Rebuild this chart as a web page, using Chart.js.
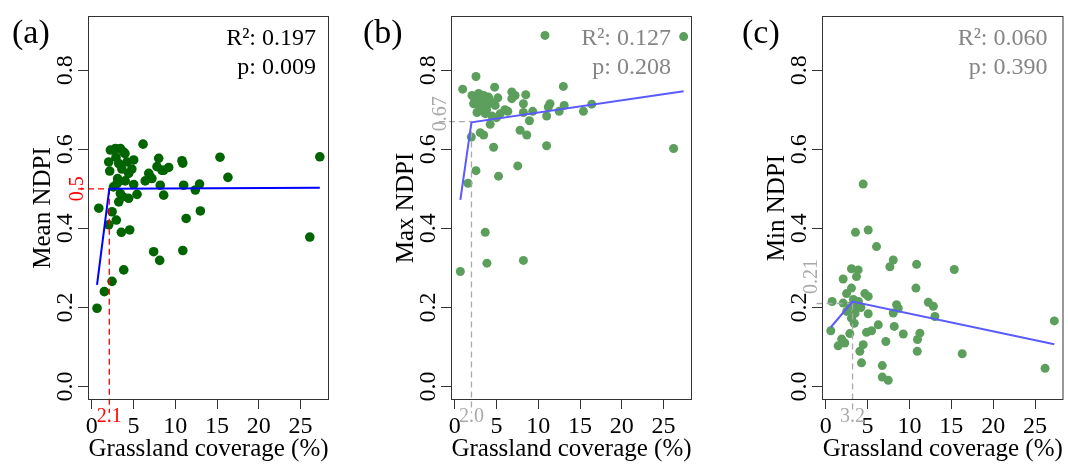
<!DOCTYPE html>
<html>
<head>
<meta charset="utf-8">
<script src="https://cdn.jsdelivr.net/npm/chart.js@4.4.1/dist/chart.umd.min.js"></script>
<style>
body { margin: 0; background: #fff; width: 1068px; height: 464px; overflow: hidden; position: relative; }
.panel { position: absolute; top: 0; width: 356px; height: 464px; }
</style>
</head>
<body>
<div class="panel" style="left:0"><canvas id="chartA" width="356" height="464"></canvas></div>
<div class="panel" style="left:356px"><canvas id="chartB" width="356" height="464"></canvas></div>
<div class="panel" style="left:712px"><canvas id="chartC" width="356" height="464"></canvas></div>
<script>
// ---------- DATA ----------
const xTicks = [0, 5, 10, 15, 20, 25];
const yTicks = [0, 0.2, 0.4, 0.6, 0.8];

// (a) Mean NDPI
const meanX = [0.63, 1.51, 2.43, 3.83, 7.41, 8.13, 10.9, 26.1, 3.54, 4.54, 2.03, 2.94, 11.3, 2.43, 13.0, 0.84,
  3.23, 4.42, 8.61, 5.42, 3.42, 12.4, 3.02, 5.02, 8.2, 11.0, 12.9, 3.18, 6.4, 3.1, 7.0, 16.3,
  6.82, 4.42, 2.15, 8.41, 9.21, 7.81, 3.23, 2.03, 4.22, 5.02, 10.8, 8.01, 15.35, 27.3,
  3.98, 3.82, 2.23, 2.83, 3.42, 6.14, 3.6, 4.0, 2.6, 3.7, 4.8, 2.9, 7.2, 8.6, 10.9];
const meanY = [0.198, 0.240, 0.266, 0.295, 0.341, 0.319, 0.344, 0.378, 0.390, 0.396, 0.409, 0.421, 0.425, 0.442, 0.444, 0.451,
  0.467, 0.476, 0.484, 0.486, 0.488, 0.497, 0.513, 0.511, 0.509, 0.509, 0.512, 0.518, 0.520, 0.526, 0.530, 0.529,
  0.539, 0.539, 0.545, 0.547, 0.554, 0.556, 0.564, 0.568, 0.568, 0.573, 0.571, 0.577, 0.580, 0.581,
  0.589, 0.593, 0.598, 0.602, 0.602, 0.613, 0.550, 0.520, 0.505, 0.480, 0.550, 0.580, 0.526, 0.547, 0.565];
const fitMeanX = [0.63, 2.1, 27.3];
const fitMeanY = [0.257, 0.5, 0.503];

// (b) Max NDPI
const maxX = [10.8, 2.54, 0.95, 4.77, 2.06, 2.86, 3.46, 4.05, 5.16, 6.83, 7.22, 8.5, 2.26, 3.05, 3.85, 4.84, 6.83, 8.22,
  13.0, 11.4, 11.2, 13.1, 2.66, 3.65, 4.45, 5.44, 6.35, 8.22, 9.33, 11.0, 12.5, 8.94, 4.24, 3.05, 3.46, 1.98,
  7.82, 8.62, 4.65, 11.0, 7.54, 2.54, 5.24, 1.58, 3.65, 3.85, 8.22, 0.67, 27.4, 26.2, 16.4, 15.4,
  2.4, 3.3, 3.8, 2.9, 4.3, 6.0, 5.0];
const maxY = [0.888, 0.784, 0.752, 0.757, 0.736, 0.741, 0.736, 0.732, 0.730, 0.745, 0.736, 0.738, 0.715, 0.715, 0.711, 0.711, 0.728, 0.715,
  0.759, 0.715, 0.707, 0.711, 0.693, 0.690, 0.684, 0.690, 0.696, 0.693, 0.696, 0.684, 0.696, 0.672, 0.663, 0.642, 0.636, 0.631,
  0.648, 0.636, 0.605, 0.609, 0.558, 0.546, 0.532, 0.514, 0.390, 0.312, 0.319, 0.291, 0.885, 0.602, 0.714, 0.696,
  0.725, 0.725, 0.700, 0.700, 0.720, 0.700, 0.680];
const fitMaxX = [0.67, 2.0, 27.4];
const fitMaxY = [0.472, 0.668, 0.747];

// (c) Min NDPI
const minX = [4.47, 3.55, 5.07, 6.06, 8.06, 7.66, 10.85, 3.07, 3.87, 3.67, 2.08, 3.07, 2.48, 4.67, 5.07, 10.77, 0.76,
  2.08, 2.87, 3.67, 3.07, 5.07, 8.46, 8.66, 8.06, 12.25, 12.85, 13.04, 6.27, 8.18, 0.6, 2.87, 4.87, 5.47,
  9.26, 11.24, 10.96, 7.18, 1.48, 2.27, 4.47, 4.07, 10.93, 4.27, 6.75, 6.75, 7.46, 15.35, 16.3, 27.3, 26.2,
  3.3, 3.9, 2.5, 3.5, 4.2, 1.9, 3.4];
const minY = [0.512, 0.390, 0.396, 0.354, 0.320, 0.303, 0.309, 0.298, 0.295, 0.278, 0.272, 0.249, 0.235, 0.235, 0.228, 0.249, 0.215,
  0.211, 0.203, 0.203, 0.173, 0.184, 0.207, 0.198, 0.186, 0.213, 0.203, 0.177, 0.156, 0.152, 0.141, 0.134, 0.137, 0.141,
  0.133, 0.135, 0.119, 0.114, 0.103, 0.110, 0.106, 0.089, 0.089, 0.060, 0.053, 0.024, 0.016, 0.296, 0.083, 0.166, 0.046,
  0.220, 0.215, 0.190, 0.185, 0.200, 0.120, 0.160];
const fitMinX = [0.6, 3.2, 27.3];
const fitMinY = [0.150, 0.215, 0.107];

// breakpoints of the segmented fits
const breakX = [2.1, 2.0, 3.2];
const breakY = [0.5, 0.67, 0.21];

// ---------- HELPERS ----------
const FONT = "'Liberation Serif', 'Times New Roman', serif";

function pts(xs, ys) {
    return xs.map((v, i) => ({ x: v, y: ys[i] }));
}

// R-like frame, tick labels and annotations
const rStyle = {
    id: "rStyle",
    afterDraw(chart, args, o) {
        const { ctx, chartArea: a, scales: { x, y } } = chart;
        ctx.save();

        // box
        ctx.strokeStyle = "#333";
        ctx.lineWidth = 1;
        ctx.strokeRect(a.left + 0.5, a.top + 0.5, a.right - a.left - 1, a.bottom - a.top - 1);

        // x tick labels
        ctx.fillStyle = "#000";
        ctx.font = "24px " + FONT;
        ctx.textAlign = "center";
        ctx.textBaseline = "alphabetic";
        xTicks.forEach(v => ctx.fillText(String(v), x.getPixelForValue(v), a.bottom + 33));

        // y tick labels (rotated)
        yTicks.forEach(v => {
            ctx.save();
            ctx.translate(a.left - 16, y.getPixelForValue(v));
            ctx.rotate(-Math.PI / 2);
            ctx.fillText(v.toFixed(1), 0, 0);
            ctx.restore();
        });

        // axis titles
        ctx.font = "25px " + FONT;
        ctx.fillText("Grassland coverage (%)", (a.left + a.right) / 2, 456);
        ctx.save();
        ctx.translate(a.left - 38, (a.top + a.bottom) / 2);
        ctx.rotate(-Math.PI / 2);
        ctx.fillText(o.yTitle, 0, 0);
        ctx.restore();

        // panel letter
        ctx.font = "34px " + FONT;
        ctx.textAlign = "left";
        ctx.fillText(o.letter, o.letterX, 43);

        // R2 / p
        ctx.font = "24px " + FONT;
        ctx.textAlign = "right";
        ctx.fillStyle = o.statColor;
        ctx.fillText(o.stats[0], a.right - o.statOffset, 45);
        ctx.fillText(o.stats[1], a.right - o.statOffset, 74);

        // breakpoint labels
        ctx.font = "20px " + FONT;
        ctx.fillStyle = o.refText;
        ctx.textAlign = "center";
        ctx.fillText(o.refXLabel, x.getPixelForValue(o.bx), a.bottom + 22);
        ctx.save();
        ctx.translate(a.left - 5, y.getPixelForValue(o.refYLabelAt));
        ctx.rotate(-Math.PI / 2);
        ctx.fillText(o.refYLabel, 0, 0);
        ctx.restore();

        ctx.restore();
    }
};

// ---------- PANEL ----------
function createPanel(id, box, p) {
    const ctx = document.getElementById(id).getContext("2d");
    const W = 356, H = 464;

    return new Chart(ctx, {
        type: "scatter",
        data: {
            datasets: [
                {
                    data: pts(p.fitX, p.fitY),
                    showLine: true,
                    borderColor: p.lineColor,
                    borderWidth: 2,
                    pointRadius: 0,
                    tension: 0
                },
                {
                    data: [{ x: p.hStart, y: p.by }, { x: p.bx, y: p.by }],
                    showLine: true,
                    borderColor: p.refColor,
                    borderWidth: 1.3,
                    borderDash: [6, 4],
                    pointRadius: 0,
                    clip: false
                },
                {
                    data: [{ x: p.bx, y: p.by }, { x: p.bx, y: -0.067 }],
                    showLine: true,
                    borderColor: p.refColor,
                    borderWidth: 1.3,
                    borderDash: [6, 4],
                    pointRadius: 0,
                    clip: false
                },
                {
                    data: pts(p.xs, p.ys),
                    backgroundColor: p.pointColor,
                    borderWidth: 0,
                    pointRadius: p.radius
                }
            ]
        },
        options: {
            responsive: false,
            animation: false,
            events: [],
            layout: {
                padding: { left: 0, top: box.top, right: W - box.right, bottom: 0 }
            },
            plugins: {
                legend: { display: false },
                tooltip: { enabled: false },
                rStyle: p.deco
            },
            scales: {
                x: {
                    type: "linear",
                    min: -0.45,
                    max: 28.4,
                    afterBuildTicks: s => { s.ticks = xTicks.map(v => ({ value: v })); },
                    afterFit: s => { s.height = H - box.bottom; },
                    ticks: { display: false },
                    border: { display: false },
                    grid: { drawOnChartArea: false, drawTicks: true, tickLength: 9, color: "#333", lineWidth: 1 }
                },
                y: {
                    type: "linear",
                    min: -0.034,
                    max: 0.937,
                    afterBuildTicks: s => { s.ticks = yTicks.map(v => ({ value: v })); },
                    afterFit: s => { s.width = box.left; },
                    ticks: { display: false },
                    border: { display: false },
                    grid: { drawOnChartArea: false, drawTicks: true, tickLength: 10, color: "#333", lineWidth: 1 }
                }
            }
        },
        plugins: [rStyle]
    });
}

const lightGreen = "#5c9e5c";
const lightBlue = "#5a5aff";
const grayText = "#858585";
const grayRef = "#aaaaaa";

createPanel("chartA", { left: 88, top: 16, right: 329, bottom: 400 }, {
    xs: meanX, ys: meanY, fitX: fitMeanX, fitY: fitMeanY,
    bx: breakX[0], by: breakY[0], hStart: -1.64,
    pointColor: "#006400", lineColor: "#0000ff", refColor: "#ff0000", radius: 4.8,
    deco: {
        yTitle: "Mean NDPI", letter: "(a)", letterX: 12,
        stats: ["R\u00b2: 0.197", "p: 0.009"], statColor: "#000", statOffset: 13,
        refText: "#ff0000", bx: breakX[0], refXLabel: "2.1", refYLabel: "0.5", refYLabelAt: 0.5
    }
});

createPanel("chartB", { left: 95, top: 16, right: 336, bottom: 400 }, {
    xs: maxX, ys: maxY, fitX: fitMaxX, fitY: fitMaxY,
    bx: breakX[1], by: breakY[1], hStart: -1.9,
    pointColor: lightGreen, lineColor: lightBlue, refColor: grayRef, radius: 4.5,
    deco: {
        yTitle: "Max NDPI", letter: "(b)", letterX: 7,
        stats: ["R\u00b2: 0.127", "p: 0.208"], statColor: grayText, statOffset: 21,
        refText: grayRef, bx: breakX[1], refXLabel: "2.0", refYLabel: "0.67", refYLabelAt: 0.69
    }
});

createPanel("chartC", { left: 110, top: 16, right: 352, bottom: 400 }, {
    xs: minX, ys: minY, fitX: fitMinX, fitY: fitMinY,
    bx: breakX[2], by: breakY[2], hStart: -1.1,
    pointColor: lightGreen, lineColor: lightBlue, refColor: grayRef, radius: 4.5,
    deco: {
        yTitle: "Min NDPI", letter: "(c)", letterX: 30,
        stats: ["R\u00b2: 0.060", "p: 0.390"], statColor: grayText, statOffset: 16,
        refText: grayRef, bx: breakX[2], refXLabel: "3.2", refYLabel: "0.21", refYLabelAt: 0.278
    }
});
</script>
</body>
</html>
